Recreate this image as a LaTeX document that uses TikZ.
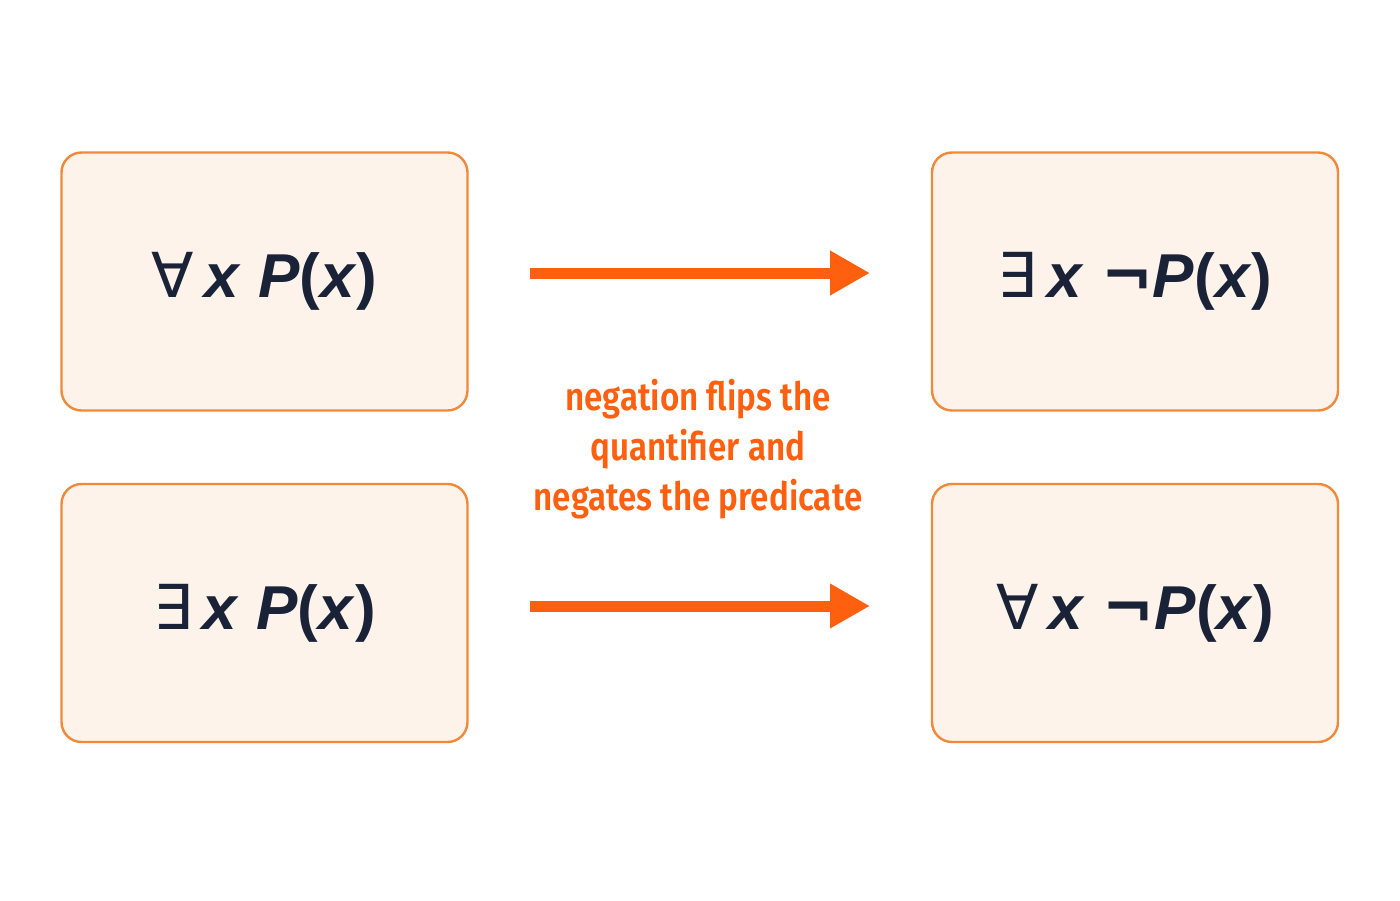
\documentclass[tikz,border=0pt]{standalone}
\usepackage{fontspec}
\setmainfont{Liberation Sans}
\newfontfamily\symfont{DejaVu Sans}
\newfontfamily\labfont[FakeStretch=0.85]{Fira Sans SemiBold}
\newcommand{\qa}{{\symfont\mdseries ∀}}
\newcommand{\qe}{{\symfont\mdseries ∃}}
\newcommand{\nego}{{\symfont\bfseries ¬}}
\usetikzlibrary{arrows.meta}
\definecolor{boxfill}{HTML}{FDF3EA}
\definecolor{boxline}{HTML}{F08A3A}
\definecolor{arr}{HTML}{FF6010}
\definecolor{ink}{HTML}{1A2238}
\begin{document}
\begin{tikzpicture}[x=0.5pt,y=-0.5pt,
  box/.style={draw=boxline,line width=1.2pt,fill=boxfill,rounded corners=10pt,minimum width=203pt,minimum height=129pt,text=ink,font=\fontsize{31}{36}\selectfont\bfseries},
  conn/.style={draw=arr,line width=5.5pt,-{Triangle[length=20pt,width=21pt]}},
  lab/.style={text=arr,font=\labfont\fontsize{19.5}{25}\selectfont,align=center}]
\fill[white] (0,0) rectangle (1400,900);
\node[box] (a) at (264.5,281.5) {\qa\,\textit{x} \textit{P}(\textit{x})};
\node[box] (b) at (1135,281.5) {\qe\,\textit{x} \nego\textit{P}(\textit{x})};
\node[box] (c) at (264.5,613) {\qe\,\textit{x} \textit{P}(\textit{x})};
\node[box] (d) at (1135,613) {\qa\,\textit{x} \nego\textit{P}(\textit{x})};
\coordinate (a1) at (530,273); \coordinate (b1) at (870,273);
\coordinate (c1) at (530,606); \coordinate (d1) at (870,606);
\draw[conn] (a1) -- (b1);
\draw[conn] (c1) -- (d1);
\node[lab] (t) at (698,449) {negation flips the\\quantifier and\\negates the predicate};
\end{tikzpicture}
\end{document}
